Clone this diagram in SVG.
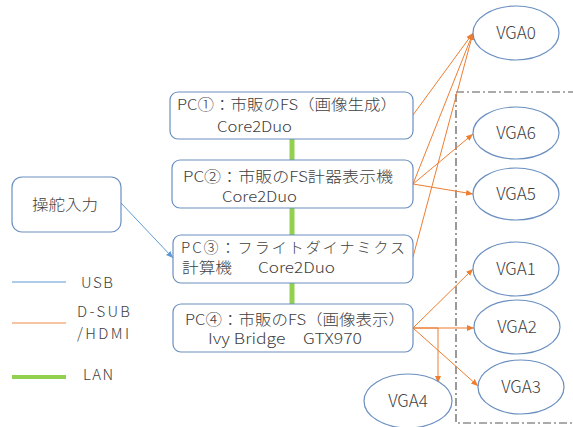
<svg xmlns="http://www.w3.org/2000/svg" width="573" height="427" viewBox="0 0 573 427">
<style>
.box{fill:#fff;stroke:#6a8fc0;stroke-width:1.2}
.ell{fill:#fff;stroke:#6a8fc0;stroke-width:1.2}
.t{font-family:"Noto Sans CJK JP","Noto Sans",sans-serif;font-size:15px;font-weight:300;fill:#404040}
.v{font-family:"Noto Sans CJK JP","Noto Sans",sans-serif;font-size:17px;font-weight:300;fill:#404040;text-anchor:middle}
.o{stroke:#ed7d31;stroke-width:1;fill:none}
.lan{stroke:#92d050;stroke-width:5}
</style>
<defs>
<marker id="ao" markerWidth="8" markerHeight="8" refX="7" refY="4" orient="auto" markerUnits="userSpaceOnUse">
<path d="M0,1 L7,4 L0,7 z" fill="#ed7d31"/>
</marker>
<marker id="ab" markerWidth="8" markerHeight="8" refX="7" refY="4" orient="auto" markerUnits="userSpaceOnUse">
<path d="M0,1 L7,4 L0,7 z" fill="#5b9bd5"/>
</marker>
</defs>
<rect x="456" y="92" width="130" height="331" fill="none" stroke="#595959" stroke-width="1.2" stroke-dasharray="8 3 2 3"/>
<g id="connectors">
<line class="lan" x1="292" y1="139" x2="292" y2="160"/>
<line class="lan" x1="292" y1="208" x2="292" y2="235"/>
<line class="lan" x1="292" y1="283" x2="292" y2="304"/>
<line x1="121" y1="203" x2="173" y2="258" stroke="#5b9bd5" stroke-width="1" marker-end="url(#ab)"/>
<line class="o" x1="413" y1="115" x2="473" y2="33" marker-end="url(#ao)"/>
<line class="o" x1="413" y1="184" x2="473" y2="33" marker-end="url(#ao)"/>
<line class="o" x1="413" y1="184" x2="473" y2="134" marker-end="url(#ao)"/>
<line class="o" x1="413" y1="184" x2="473" y2="194" marker-end="url(#ao)"/>
<line class="o" x1="413" y1="257" x2="473" y2="33" marker-end="url(#ao)"/>
<line class="o" x1="413" y1="328" x2="473" y2="269" marker-end="url(#ao)"/>
<line class="o" x1="413" y1="328" x2="474" y2="328" marker-end="url(#ao)"/>
<line class="o" x1="413" y1="328" x2="478" y2="386" marker-end="url(#ao)"/>
<path class="o" d="M413,328 H438 V383" stroke-width="1.3" marker-end="url(#ao)"/>
</g>
<g id="pc1"><rect class="box" x="170" y="92" width="243" height="47" rx="8"/>
<text class="t" x="177" y="110" textLength="220" lengthAdjust="spacingAndGlyphs">PC①：市販のFS（画像生成）</text>
<text class="t" x="217" y="132" textLength="75" lengthAdjust="spacingAndGlyphs">Core2Duo</text></g>
<g id="pc2"><rect class="box" x="172" y="160" width="241" height="48" rx="8"/>
<text class="t" x="183" y="182" textLength="210" lengthAdjust="spacingAndGlyphs">PC②：市販のFS計器表示機</text>
<text class="t" x="222" y="202" textLength="75" lengthAdjust="spacingAndGlyphs">Core2Duo</text></g>
<g id="pc3"><rect class="box" x="173" y="235" width="240" height="48" rx="8"/>
<text class="t" x="181" y="253" textLength="224" lengthAdjust="spacing">PC③：フライトダイナミクス</text>
<text class="t" x="182" y="273" textLength="50" lengthAdjust="spacingAndGlyphs">計算機</text>
<text class="t" x="258" y="273" textLength="77" lengthAdjust="spacingAndGlyphs">Core2Duo</text></g>
<g id="pc4"><rect class="box" x="173" y="304" width="240" height="48" rx="8"/>
<text class="t" x="185" y="325" textLength="220" lengthAdjust="spacingAndGlyphs">PC④：市販のFS（画像表示）</text>
<text class="t" x="208" y="344" textLength="154" lengthAdjust="spacingAndGlyphs">Ivy Bridge　GTX970</text></g>
<g id="input"><rect class="box" x="12" y="177" width="109" height="55" rx="10"/>
<text class="t" x="32" y="210" textLength="66" lengthAdjust="spacingAndGlyphs" font-size="16">操舵入力</text></g>
<g id="vga0"><ellipse class="ell" cx="516" cy="33" rx="43" ry="27"/><text class="v" x="516" y="39">VGA0</text></g>
<g id="vga6"><ellipse class="ell" cx="516" cy="133" rx="43" ry="26"/><text class="v" x="516" y="139">VGA6</text></g>
<g id="vga5"><ellipse class="ell" cx="516" cy="194" rx="43" ry="26"/><text class="v" x="516" y="200">VGA5</text></g>
<g id="vga1"><ellipse class="ell" cx="516" cy="269" rx="43" ry="27"/><text class="v" x="516" y="275">VGA1</text></g>
<g id="vga2"><ellipse class="ell" cx="517" cy="327" rx="43" ry="27"/><text class="v" x="517" y="333">VGA2</text></g>
<g id="vga3"><ellipse class="ell" cx="521" cy="387" rx="43" ry="27"/><text class="v" x="521" y="393">VGA3</text></g>
<g id="vga4"><ellipse class="ell" cx="408" cy="401" rx="44" ry="27"/><text class="v" x="408" y="407">VGA4</text></g>
<g id="legend">
<line x1="12" y1="282" x2="66" y2="282" stroke="#5b9bd5" stroke-width="1"/>
<text class="t" x="81" y="288" textLength="32" lengthAdjust="spacing" font-size="16">USB</text>
<line x1="12" y1="323" x2="66" y2="323" stroke="#f4b183" stroke-width="1.3"/>
<text class="t" x="77" y="317" textLength="53" lengthAdjust="spacing" font-size="16">D-SUB</text>
<text class="t" x="77" y="339" textLength="52" lengthAdjust="spacing" font-size="16">/HDMI</text>
<line x1="12" y1="377" x2="66" y2="377" stroke="#92d050" stroke-width="4"/>
<text class="t" x="83" y="380" textLength="30" lengthAdjust="spacing" font-size="16">LAN</text>
</g>
</svg>
